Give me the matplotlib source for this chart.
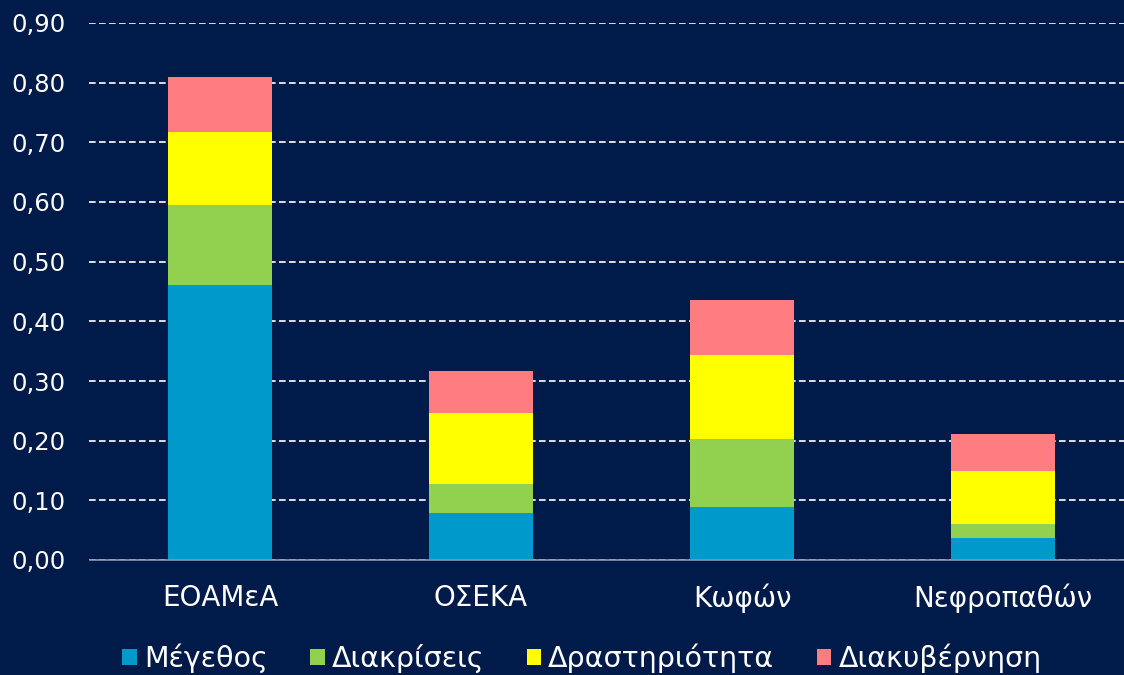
import numpy as np
import matplotlib.pyplot as plt

categories = ['ΕΟΑΜεΑ', 'ΟΣΕΚΑ', 'Κωφών', 'Νεφροπαθών']
series_names = ['Μέγεθος', 'Διακρίσεις', 'Δραστηριότητα', 'Διακυβέρνηση']
megethos = [0.461, 0.079, 0.089, 0.037]
diakriseis = [0.134, 0.048, 0.114, 0.023]
drastiriotita = [0.122, 0.119, 0.141, 0.089]
diakyvernisi = [0.092, 0.071, 0.092, 0.062]
yticks = [0.0, 0.1, 0.2, 0.3, 0.4, 0.5, 0.6, 0.7, 0.8, 0.9]

colors = ['#0099cc', '#92d050', '#ffff00', '#ff7c80']
bg = '#001a4a'

plt.rcParams['font.family'] = ['DejaVu Sans']

fig = plt.figure(figsize=(11.24, 6.75), dpi=100, facecolor=bg)
ax = fig.add_axes([89.5 / 1124, 115 / 675, 1044 / 1124, 537 / 675], facecolor=bg)
ax.set_axisbelow(True)

x = np.arange(len(categories))
bottom = np.zeros(len(categories))
for name, vals, c in zip(series_names, [megethos, diakriseis, drastiriotita, diakyvernisi], colors):
    ax.bar(x, vals, 0.4, bottom=bottom, color=c, label=name, edgecolor='none')
    bottom += np.array(vals)

ax.set_xlim(-0.5, 3.5)
ax.set_ylim(0, 0.9)
ax.set_yticks(yticks)
ax.set_yticklabels([f'{v:.2f}'.replace('.', ',') for v in yticks])
ax.set_xticks(x)
ax.set_xticklabels(categories)
ax.tick_params(axis='both', length=0, colors='white')
ax.tick_params(axis='y', pad=17, labelsize=17.5)
ax.tick_params(axis='x', pad=17, labelsize=20)

ax.yaxis.grid(True, color='white', ls=(0, (4, 2)), lw=1.2)
for s in ('top', 'right', 'left'):
    ax.spines[s].set_visible(False)
ax.spines['bottom'].set_color('#8c94a8')
ax.spines['bottom'].set_linewidth(1.2)

leg = fig.legend(*ax.get_legend_handles_labels(), loc='center',
                 bbox_to_anchor=(582 / 1124, 1 - 658 / 675),
                 ncol=4, frameon=False, fontsize=20.5,
                 handlelength=0.5, handleheight=0.5,
                 handletextpad=0.25, columnspacing=1.5, labelcolor='white')

fig.savefig('out.png', dpi=100, facecolor=bg)
